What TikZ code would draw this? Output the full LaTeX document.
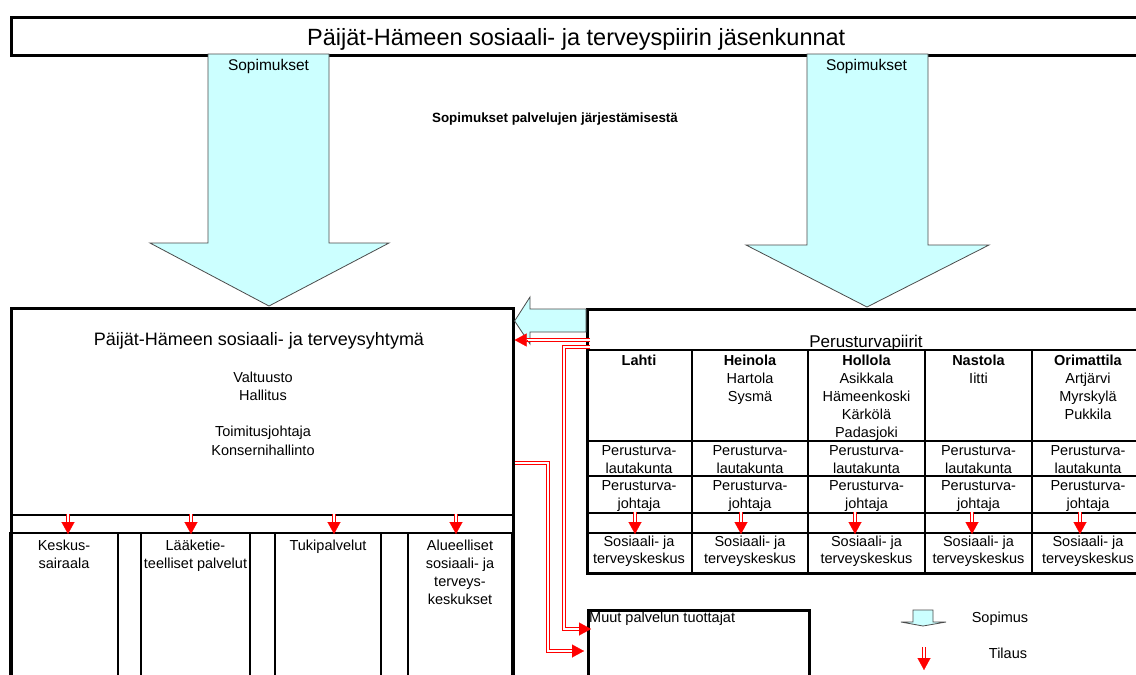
\documentclass[tikz,border=0pt]{standalone}
\usepackage{fontspec}
\setmainfont{Liberation Sans}
\usetikzlibrary{arrows.meta,positioning,calc}
\definecolor{sopiva}{HTML}{CCFFFF}
\newcommand{\rivit}[1]{\begin{tabular}[t]{@{}c@{}}#1\end{tabular}}
\tikzset{
kehys/.style={draw,line width=2.6pt},
ohut/.style={draw,line width=1.4pt},
sopimus/.style={draw=black!70,line width=0.8pt,fill=sopiva,line join=miter},
tilaus/.style={draw=red,double=white,line width=0.8pt,double distance=1.8pt,shorten >=11pt},
karki/.style={draw=red,fill=red,line width=0.2pt,-{Triangle[length=12pt,width=13pt]}},
teksti/.style={font=\fontsize{14.5}{18}\selectfont,inner sep=0pt,anchor=base}
}
\begin{document}
\begin{tikzpicture}[x=1pt,y=-1pt]
\path[use as bounding box,clip] (0,0) rectangle (1136,675);
\fill[white] (0,0) rectangle (1136,675);
%%% jasenkunnat
\node[kehys,anchor=north west,minimum width=1130pt,minimum height=38pt] (jasen) at (10,16) {};
\node[teksti,font=\fontsize{23.5}{28}\selectfont] (jasenteksti) at (jasen.center |- 0,45.5) {Päijät-Hämeen sosiaali- ja terveyspiirin jäsenkunnat};
\node[teksti,font=\fontsize{13.4}{16}\selectfont\bfseries] (jarjest) at (555,122.5) {Sopimukset palvelujen järjestämisestä};
%%% yhtyma
\node[kehys,anchor=north west,minimum width=502pt,minimum height=390pt] (yhtyma) at (10,307) {};
\node[teksti,font=\fontsize{18}{22}\selectfont] (yhtymanimi) at (259,345.5) {Päijät-Hämeen sosiaali- ja terveysyhtymä};
\node[teksti,font=\fontsize{14.5}{18.3}\selectfont] (hallinto) at (263,382) {\rivit{Valtuusto\\Hallitus\\ \\Toimitusjohtaja\\Konsernihallinto}};
\foreach \y in {515,533}
  \draw[kehys] (yhtyma.west |- 0,\y) -- (yhtyma.east |- 0,\y);
\foreach \xl/\xr/\xa/\nimi [count=\i] in {10/118/68/{Keskus-\\sairaala},141/250/191/{Lääketie-\\teelliset palvelut},275/381/334/{Tukipalvelut},408/512/456/{Alueelliset\\sosiaali- ja\\terveys-\\keskukset}}
{
  \draw[kehys] (\xl,533) rectangle (\xr,700);
  \node[teksti] (yksikko\i) at ({(\xl+\xr)/2},550) {\rivit{\nimi}};
  \draw[tilaus] (\xa,514) -- (\xa,534);
  \draw[karki] (\xa,522) -- (\xa,534);
}
%%% perusturvapiirit
\node[kehys,anchor=north west,minimum width=558pt,minimum height=264pt] (perus) at (586,308) {};
\node[teksti,font=\fontsize{17}{20}\selectfont] (perusnimi) at (866,347.5) {Perusturvapiirit};
\foreach \y in {350,441,513,533}
  \draw[kehys] (perus.west |- 0,\y) -- (perus.east |- 0,\y);
\draw[ohut] (perus.west |- 0,476) -- (perus.east |- 0,476);
\foreach \x in {692,808,925,1032}
  \draw[kehys] (\x,350) -- (\x,572);
\foreach \x/\xa/\kunta/\muut [count=\i] in {639/635/Lahti/{},750/741/Heinola/{\\Hartola\\Sysmä},866.5/855/Hollola/{\\Asikkala\\Hämeenkoski\\Kärkölä\\Padasjoki},978.5/972/Nastola/{\\Iitti},1088/1080/Orimattila/{\\Artjärvi\\Myrskylä\\Pukkila}}
{
  \node[teksti] (piiri\i) at (\x,365) {\rivit{\textbf{\kunta}\muut}};
  \node[teksti] (lauta\i) at (\x,455) {\rivit{Perusturva-\\lautakunta}};
  \node[teksti] (johtaja\i) at (\x,490) {\rivit{Perusturva-\\johtaja}};
  \node[teksti,font=\fontsize{14.5}{17}\selectfont] (keskus\i) at (\x,546.5) {\rivit{Sosiaali- ja\\terveyskeskus}};
  \draw[tilaus] (\xa,512) -- (\xa,534);
  \draw[karki] (\xa,522) -- (\xa,534);
}
%%% muut tuottajat
\node[kehys,anchor=north west,minimum width=221pt,minimum height=90pt] (muut) at (587,609) {};
\node[teksti,anchor=base west] (muutnimi) at (589,622) {Muut palvelun tuottajat};
%%% sopimukset
\draw[sopimus] (208,54) -- (329,54) -- (329,243) -- (389,243) -- (269,306) -- (150,243) -- (208,243) -- cycle;
\draw[sopimus] (807,54) -- (928,54) -- (928,245) -- (989,245) -- (867,307) -- (746,245) -- (807,245) -- cycle;
\node[teksti,font=\fontsize{15.5}{18}\selectfont] (sop1) at (268.5,70) {Sopimukset};
\node[teksti,font=\fontsize{15.5}{18}\selectfont] (sop2) at (866.5,70) {Sopimukset};
\draw[sopimus] (perus.west |- 0,309) -- (530,309) -- (530,297) -- (yhtyma.east |- 0,321) -- (530,344) -- (530,332) -- (perus.west |- 0,332) -- cycle;
%%% tilaukset
\draw[tilaus] (590,340) -- (yhtyma.east |- 0,340);
\draw[karki] ($(yhtyma.east |- 0,340)+(12,0)$) -- (yhtyma.east |- 0,340);
\draw[tilaus] (590,347) -| (564,629) -- (591,629);
\draw[karki] (579,629) -- (591,629);
\draw[tilaus] (yhtyma.east |- 0,463) -| (548,651) -- (584,651);
\draw[karki] (572,651) -- (584,651);
%%% selitys
\draw[sopimus] (913,610) -- (933,610) -- (933,622) -- (946,622) -- (923,626) -- (901,622) -- (913,622) -- cycle;
\node[teksti] (selsop) at (1000,622) {Sopimus};
\coordinate (tilalku) at (924,647);
\coordinate (tilloppu) at (924,670);
\draw[tilaus] (tilalku) -- (tilloppu);
\draw[karki] ($(tilloppu)+(0,-12)$) -- (tilloppu);
\node[teksti] (seltil) at (1008,658) {Tilaus};
\end{tikzpicture}
\end{document}
